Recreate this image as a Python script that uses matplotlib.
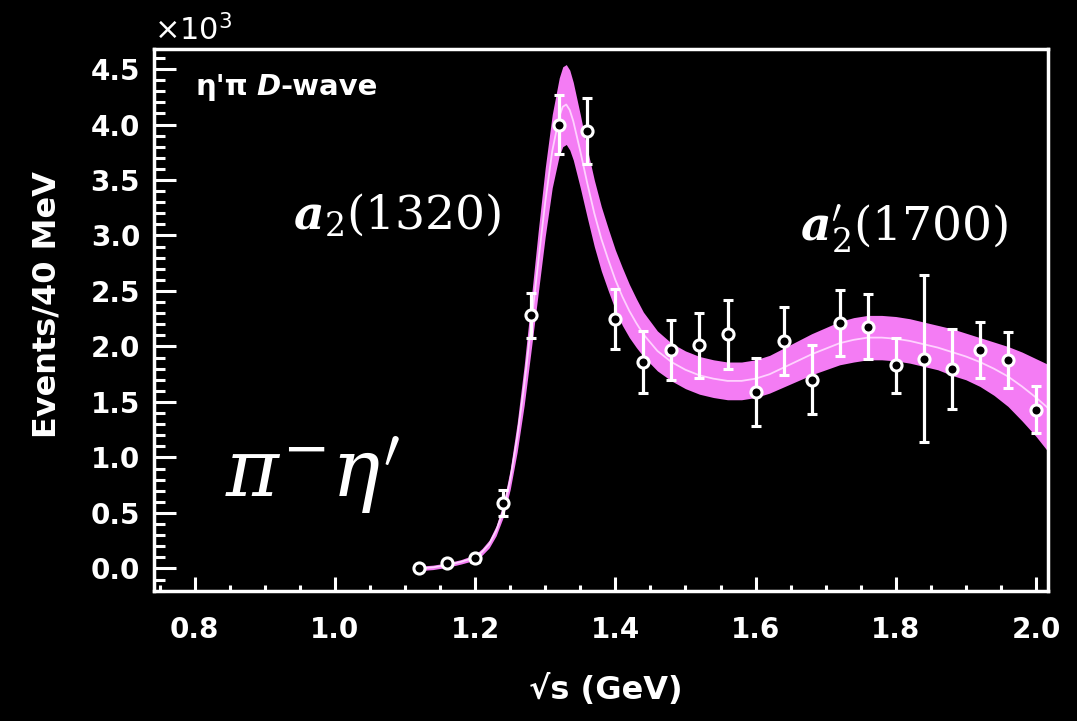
"""eta' pi D-wave: data points with the fitted band (a2(1320), a2'(1700))."""

import matplotlib
matplotlib.use('Agg')
import matplotlib.pyplot as plt
from matplotlib.ticker import MultipleLocator, FormatStrFormatter

# measured points, events / 40 MeV in units of 10^3
mass = [1.12, 1.16, 1.20, 1.24, 1.28, 1.32, 1.36, 1.40, 1.44, 1.48, 1.52,
        1.56, 1.60, 1.64, 1.68, 1.72, 1.76, 1.80, 1.84, 1.88, 1.92, 1.96,
        2.00]
events = [0.00, 0.045, 0.09, 0.59, 2.28, 4.00, 3.94, 2.25, 1.86, 1.97, 2.01,
          2.11, 1.59, 2.05, 1.70, 2.21, 2.18, 1.83, 1.89, 1.80, 1.97, 1.88,
          1.43]
errors = [0.02, 0.02, 0.03, 0.12, 0.20, 0.27, 0.30, 0.27, 0.28, 0.27, 0.29,
          0.31, 0.31, 0.31, 0.31, 0.30, 0.29, 0.25, 0.75, 0.36, 0.25, 0.25,
          0.21]

# fit curve and its error band
fit_x = [1.12, 1.14, 1.16, 1.18, 1.20, 1.21, 1.22, 1.23, 1.24, 1.25, 1.26,
         1.27, 1.28, 1.29, 1.30, 1.31, 1.32, 1.325, 1.33, 1.335, 1.34, 1.35,
         1.36, 1.37, 1.38, 1.39, 1.40, 1.41, 1.42, 1.43, 1.44, 1.46, 1.48,
         1.50, 1.52, 1.54, 1.56, 1.58, 1.60, 1.62, 1.64, 1.66, 1.68, 1.70,
         1.72, 1.74, 1.76, 1.78, 1.80, 1.82, 1.84, 1.86, 1.88, 1.90, 1.92,
         1.94, 1.96, 1.98, 2.00, 2.02]
fit_y = [0.00, 0.01, 0.03, 0.06, 0.10, 0.15, 0.22, 0.34, 0.52, 0.80, 1.18,
         1.65, 2.20, 2.76, 3.30, 3.76, 4.07, 4.16, 4.18, 4.13, 4.03, 3.76,
         3.47, 3.20, 2.97, 2.78, 2.60, 2.45, 2.32, 2.21, 2.11, 1.96, 1.86,
         1.79, 1.74, 1.71, 1.69, 1.69, 1.71, 1.75, 1.81, 1.87, 1.93, 1.98,
         2.03, 2.06, 2.08, 2.08, 2.07, 2.05, 2.02, 1.99, 1.95, 1.91, 1.86,
         1.80, 1.73, 1.64, 1.54, 1.43]
fit_err = [0.02, 0.02, 0.02, 0.02, 0.025, 0.03, 0.035, 0.045, 0.06, 0.09,
           0.13, 0.18, 0.23, 0.28, 0.31, 0.33, 0.35, 0.36, 0.36, 0.36, 0.35,
           0.33, 0.31, 0.30, 0.29, 0.28, 0.27, 0.26, 0.24, 0.22, 0.20, 0.18,
           0.17, 0.17, 0.17, 0.17, 0.17, 0.17, 0.17, 0.17, 0.175, 0.18, 0.185,
           0.19, 0.195, 0.20, 0.20, 0.20, 0.20, 0.20, 0.20, 0.20, 0.21, 0.21,
           0.22, 0.24, 0.27, 0.31, 0.35, 0.40]

BAND = '#f47cf4'
FG = 'white'


def main():
    plt.rcParams['font.family'] = ['DejaVu Sans']

    fig = plt.figure(figsize=(10.77, 7.21), dpi=100, facecolor='black')
    ax = fig.add_axes([0.143, 0.180, 0.830, 0.752], facecolor='black')

    lo = [y - e for y, e in zip(fit_y, fit_err)]
    hi = [y + e for y, e in zip(fit_y, fit_err)]
    ax.fill_between(fit_x, lo, hi, color=BAND, lw=0, zorder=1)
    ax.plot(fit_x, fit_y, color='#ffd2ff', lw=1.3, zorder=2)

    ax.errorbar(mass, events, yerr=errors, fmt='o', ms=8, mew=2.2,
                mfc='black', mec=FG, ecolor=FG, elinewidth=2.3,
                capsize=3.5, capthick=2.3, zorder=3)

    ax.set_xlim(0.742, 2.017)
    ax.set_ylim(-0.205, 4.68)

    ax.xaxis.set_major_locator(MultipleLocator(0.2))
    ax.xaxis.set_minor_locator(MultipleLocator(0.05))
    ax.yaxis.set_major_locator(MultipleLocator(0.5))
    ax.yaxis.set_minor_locator(MultipleLocator(0.1))
    ax.xaxis.set_major_formatter(FormatStrFormatter('%.1f'))
    ax.yaxis.set_major_formatter(FormatStrFormatter('%.1f'))

    ax.tick_params(which='both', direction='in', colors=FG, width=2.2,
                   labelsize=20, top=False, right=False)
    ax.tick_params(axis='y', which='major', length=16, pad=10)
    ax.tick_params(axis='y', which='minor', length=8)
    ax.tick_params(axis='x', which='major', length=10, pad=18)
    ax.tick_params(axis='x', which='minor', length=4.5)
    plt.setp(ax.get_xticklabels() + ax.get_yticklabels(), fontweight='bold')
    for s in ax.spines.values():
        s.set_color(FG)
        s.set_linewidth(2.5)

    ax.text(0.0, 1.005, r'$\times10^{3}$', transform=ax.transAxes,
            ha='left', va='bottom', fontsize=22, color=FG)

    sans = dict(fontsize=21, color=FG, fontweight='bold', va='bottom')
    t1 = ax.text(0.046, 0.905, "η'π", transform=ax.transAxes, **sans)
    t2 = ax.annotate('D', xy=(1, 0), xycoords=t1, xytext=(6, 0),
                     textcoords='offset points', fontstyle='italic', **sans)
    ax.annotate('-wave', xy=(1, 0), xycoords=t2, **sans)

    serif = dict(color=FG, family='DejaVu Serif', fontweight='normal',
                 math_fontfamily='dejavuserif', va='baseline')
    ax.text(0.94, 3.06, r'$\boldsymbol{a}_2$(1320)', fontsize=34, **serif)
    ax.text(1.664, 2.95, r"$\boldsymbol{a}_2'$(1700)", fontsize=34, **serif)
    ax.text(0.843, 0.64, r"$\pi^{-}\eta'$", fontsize=58, **serif)

    fig.text(47 / 1077, 1 - 305 / 721, 'Events/40 MeV', rotation=90,
             ha='center', va='center', fontsize=23, color=FG,
             fontweight='bold')
    fig.text(606 / 1077, 1 - 690 / 721, '√s (GeV)', ha='center',
             va='center', fontsize=23, color=FG, fontweight='bold')

    fig.savefig('out.png', dpi=100, facecolor='black')


if __name__ == '__main__':
    main()
